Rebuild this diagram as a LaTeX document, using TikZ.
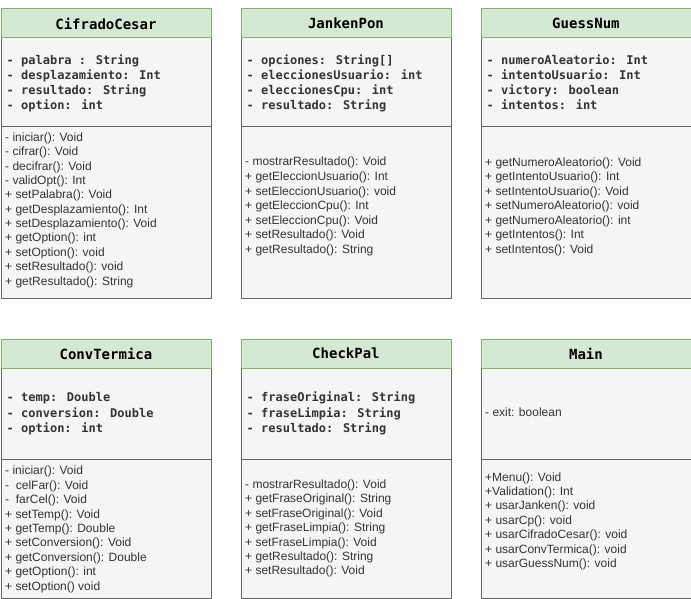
\documentclass[tikz,border=0pt]{standalone}
\usepackage{fontspec}
\setmainfont{Liberation Sans}
\newfontfamily\umlmono{DejaVu Sans Mono}

\definecolor{headfill}{HTML}{D5E8D4}
\definecolor{headline}{HTML}{82B366}
\definecolor{bodyfill}{HTML}{F5F5F5}
\definecolor{bodyline}{HTML}{666666}
\definecolor{txt}{HTML}{333333}

\tikzset{
  head/.style={fill=headfill, draw=headline, line width=0.9pt, anchor=north west,
    minimum width=210pt, minimum height=29pt, inner sep=0pt,
    font=\umlmono\bfseries\fontsize{14}{16}\selectfont, text=black},
  section/.style={fill=bodyfill, draw=bodyline, line width=0.9pt, anchor=north west,
    minimum width=210pt, inner sep=0pt},
  attr/.style={font=\umlmono\bfseries\fontsize{12}{14}\selectfont, text=txt,
    anchor=base west, inner sep=0pt},
  meth/.style={font=\fontsize{12}{14}\selectfont, text=txt,
    anchor=base west, inner sep=0pt},
}

% class box: id, left x, top y, separator y, bottom y, title
\newcommand\umlbox[6]{%
  \node[section, minimum height={#5-#4}] (#1-ops) at (#2,#4) {};
  \node[section, minimum height={#4-#3-29}] (#1-attrs) at (#2,#3+29) {};
  \node[head] (#1) at (#2,#3) {#6};
}
% text lines: id, style, x, first baseline, step, list
\newcommand\umllines[6]{%
  \foreach \t [count=\i] in {#6}
    \node[#2] (#1-\i) at (#3,{#4+#5*(\i-1)}) {\t};
}

\begin{document}
\begin{tikzpicture}[x=1pt,y=-1pt]
\useasboundingbox (0,0) rectangle (691,599);

% ---- first row ----
\umlbox{cc}{0.5}{8.5}{126.5}{298}{CifradoCesar}
\umllines{cc-a}{attr}{6.5}{65}{15}{- palabra : String,- desplazamiento: Int,- resultado: String,- option: int}
\umllines{cc-m}{meth}{5}{141.5}{14.35}{- iniciar(): Void,- cifrar(): Void,- decifrar(): Void,- validOpt(): Int,+ setPalabra(): Void,+ getDesplazamiento(): Int,+ setDesplazamiento(): Void,+ getOption(): int,+ setOption(): void,+ setResultado(): void,+ getResultado(): String}

\umlbox{jp}{240.5}{8.5}{126.5}{298}{JankenPon}
\umllines{jp-a}{attr}{246.5}{65}{15}{- opciones: String[],- eleccionesUsuario: int,- eleccionesCpu: int,- resultado: String}
\umllines{jp-m}{meth}{245}{166}{14.5}{- mostrarResultado(): Void,+ getEleccionUsuario(): Int,+ setEleccionUsuario(): void,+ getEleccionCpu(): Int,+ setEleccionCpu(): Void,+ setResultado(): Void,+ getResultado(): String}

\umlbox{gn}{480.5}{8.5}{126.5}{298}{GuessNum}
\umllines{gn-a}{attr}{486.5}{65}{15}{- numeroAleatorio: Int,- intentoUsuario: Int,- victory: boolean,- intentos: int}
\umllines{gn-m}{meth}{485}{166.3}{14.5}{+ getNumeroAleatorio(): Void,+ getIntentoUsuario(): Int,+ setIntentoUsuario(): Void,+ setNumeroAleatorio(): void,+ getNumeroAleatorio(): int,+ getIntentos(): Int,+ setIntentos(): Void}

% ---- second row ----
\umlbox{ct}{0.5}{338.5}{458.5}{598}{ConvTermica}
\umllines{ct-a}{attr}{6.5}{401.7}{15.3}{- temp: Double,- conversion: Double,- option: int}
\umllines{ct-m}{meth}{5}{474.8}{14.4}{- iniciar(): Void,-\ \ celFar(): Void,-\ \ farCel(): Void,+ setTemp(): Void,+ getTemp(): Double,+ setConversion(): Void,+ getConversion(): Double,+ getOption(): int,+ setOption() void}

\umlbox{cp}{240.5}{338.5}{458.5}{598}{CheckPal}
\umllines{cp-a}{attr}{246.5}{401.7}{15.3}{- fraseOriginal: String,- fraseLimpia: String,- resultado: String}
\umllines{cp-m}{meth}{245}{488.5}{14.4}{- mostrarResultado(): Void,+ getFraseOriginal(): String,+ setFraseOriginal(): Void,+ getFraseLimpia(): String,+ setFraseLimpia(): Void,+ getResultado(): String,+ setResultado(): Void}

\umlbox{mn}{480.5}{338.5}{458.5}{598}{Main}
\umllines{mn-a}{meth}{485}{416.7}{15}{- exit: boolean}
\umllines{mn-m}{meth}{485}{481}{14.4}{+Menu(): Void,+Validation(): Int,+ usarJanken(): void,+ usarCp(): void,+ usarCifradoCesar(): void,+ usarConvTermica(): void,+ usarGuessNum(): void}
\end{tikzpicture}
\end{document}
